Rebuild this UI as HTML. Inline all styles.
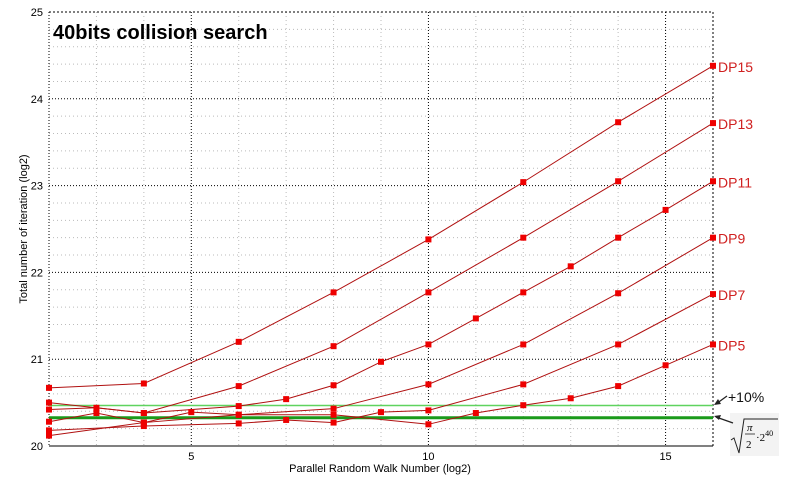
<!DOCTYPE html>
<html><head><meta charset="utf-8"><style>
body{margin:0;background:#fff;}
svg{display:block;font-family:"Liberation Sans",Arial,sans-serif;}
</style></head><body>
<svg id="chart" width="793" height="483" viewBox="0 0 793 483">
<g id="grid"></g>
<g id="axes"></g>
<g id="series"></g>
<text x="53" y="39" font-size="20" font-weight="bold">40bits collision search</text>
<text x="380" y="472" font-size="11" text-anchor="middle">Parallel Random Walk Number (log2)</text>
<text transform="translate(27,229) rotate(-90)" font-size="11" text-anchor="middle">Total number of iteration (log2)</text>
<g>
<text x="728" y="402" font-size="14" fill="#111">+10%</text>
<line x1="727" y1="396" x2="716" y2="404" stroke="#222" stroke-width="1.3"/>
<polygon points="714,405 718,399 721,404" fill="#222"/>
</g>
<g>
<rect x="730" y="413" width="49" height="43" fill="#f3f3f3"/>
<line x1="733" y1="423" x2="716" y2="417" stroke="#222" stroke-width="1.3"/>
<polygon points="714,416 721,415 719,420" fill="#222"/>
<path d="M731,440 l3,-2 l5,15 l5,-34 h34" fill="none" stroke="#222" stroke-width="1"/>
<text x="747" y="431" font-size="11" font-family="Liberation Serif,serif" font-style="italic">π</text>
<line x1="745" y1="434" x2="755" y2="434" stroke="#222" stroke-width="0.8"/>
<text x="746" y="448" font-size="11" font-family="Liberation Serif,serif">2</text>
<text x="756" y="441" font-size="11" font-family="Liberation Serif,serif">·2<tspan font-size="8" dy="-5">40</tspan></text>
</g>
</svg>
<script>
const xTicks=[5,10,15];
const yTicks=[20,21,22,23,24,25];
const seriesNames=["DP15","DP13","DP11","DP9","DP7","DP5"];
const dp15X=[2,4,6,8,10,12,14,16];
const dp15Y=[20.67,20.72,21.2,21.77,22.38,23.04,23.73,24.38];
const dp13X=[2,4,6,8,10,12,14,16];
const dp13Y=[20.5,20.38,20.69,21.15,21.77,22.4,23.05,23.72];
const dp11X=[2,3,4,6,7,8,9,10,11,12,13,14,15,16];
const dp11Y=[20.42,20.44,20.38,20.46,20.54,20.7,20.97,21.17,21.47,21.77,22.07,22.4,22.72,23.05];
const dp9X=[2,3,4,5,6,8,10,12,14,16];
const dp9Y=[20.28,20.38,20.27,20.39,20.36,20.43,20.71,21.17,21.76,22.4];
const dp7X=[2,4,6,7,8,9,10,12,14,16];
const dp7Y=[20.18,20.23,20.26,20.3,20.27,20.39,20.41,20.71,21.17,21.75];
const dp5X=[2,4,6,8,10,11,12,13,14,15,16];
const dp5Y=[20.12,20.27,20.36,20.36,20.25,20.38,20.47,20.55,20.69,20.93,21.17];
const refLevels=[20.466,20.326];

const L=49,R=713,T=12,B=446,xMin=2,xMax=16,yMin=20,yMax=25;
const sx=v=>L+(v-xMin)/(xMax-xMin)*(R-L);
const sy=v=>B-(v-yMin)/(yMax-yMin)*(B-T);
const NS="http://www.w3.org/2000/svg";
function mk(tag,attrs,parent){const e=document.createElementNS(NS,tag);for(const k in attrs)e.setAttribute(k,attrs[k]);parent.appendChild(e);return e;}
const grid=document.getElementById('grid'),axes=document.getElementById('axes'),ser=document.getElementById('series');
for(let x=xMin+1;x<xMax;x++){const major=xTicks.includes(x);
 const l=mk('line',{x1:sx(x),x2:sx(x),y1:T,y2:B,stroke:major?'#000':'#bbb','stroke-width':1,'stroke-dasharray':major?'1,2':'1,3'},grid);
 
 }
for(let i=1;i<25;i++){const y=yMin+i*0.2;const major=Math.abs(y-Math.round(y))<1e-6;
 const l=mk('line',{x1:L,x2:R,y1:sy(y),y2:sy(y),stroke:major?'#000':'#bbb','stroke-width':1,'stroke-dasharray':major?'1,2':'1,3'},grid);
 
 }
mk('line',{x1:L,x2:L,y1:T,y2:B,stroke:'#000','stroke-dasharray':'1,2'},axes);
mk('line',{x1:R,x2:R,y1:T,y2:B,stroke:'#000','stroke-dasharray':'2,2'},axes);
mk('line',{x1:L,x2:R,y1:T,y2:T,stroke:'#000','stroke-dasharray':'2,2'},axes);
mk('line',{x1:L,x2:R,y1:B,y2:B,stroke:'#000'},axes);
xTicks.forEach(t=>{const e=mk('text',{x:sx(t),y:B+14,'font-size':11,'text-anchor':'middle'},axes);e.textContent=t;
 
 });
yTicks.forEach(t=>{const e=mk('text',{x:L-6,y:sy(t)+4,'font-size':11,'text-anchor':'end'},axes);e.textContent=t;
 
 });
refLevels.forEach((v,i)=>{const l=mk('line',{x1:L,x2:R,y1:sy(v),y2:sy(v),stroke:i?'#1a9a1a':'#5fd35f','stroke-width':i?3:1.5},ser);
 
 });
const all=[[dp15X,dp15Y],[dp13X,dp13Y],[dp11X,dp11Y],[dp9X,dp9Y],[dp7X,dp7Y],[dp5X,dp5Y]];
all.forEach((s,i)=>{const [xs,ys]=s;
 const p=mk('polyline',{points:xs.map((x,j)=>sx(x)+','+sy(ys[j])).join(' '),fill:'none',stroke:'#b01010','stroke-width':1},ser);
 
 
 xs.forEach((x,j)=>{const r=mk('rect',{x:sx(x)-3,y:sy(ys[j])-3,width:6,height:6,fill:'#e00'},ser);
  
  });
 const t=mk('text',{x:R+5,y:sy(ys[ys.length-1])+6,'font-size':14,fill:'#d02020'},ser);t.textContent=seriesNames[i];
 
 });
</script>
</body></html>
